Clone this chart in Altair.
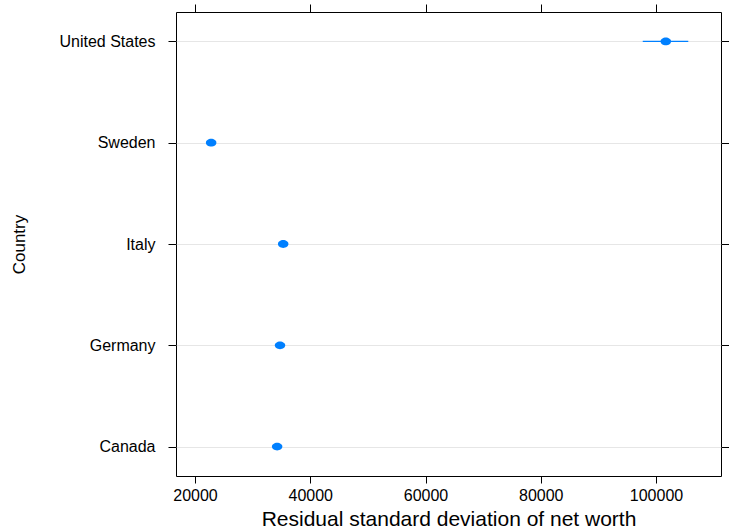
import altair as alt
import pandas as pd

countries = ["United States", "Sweden", "Italy", "Germany", "Canada"]
values = [101700, 22800, 35300, 34750, 34250]
lower = [97700, 22300, 34800, 34250, 33750]
upper = [105600, 23300, 35800, 35250, 34750]
x_ticks = [20000, 40000, 60000, 80000, 100000]

df = pd.DataFrame({"Country": countries, "value": values, "lower": lower, "upper": upper})

FONT = "Liberation Sans"
BLUE = "#0080FF"

xscale = alt.Scale(domain=[16700, 111280], nice=False, zero=False)
yscale = alt.Scale(type="point", padding=0.29)

bottom_axis = alt.Axis(orient="bottom", values=x_ticks, format="d", domain=False, grid=False,
                       tickSize=7, tickColor="black", tickWidth=1, labelFontSize=16, labelFont=FONT,
                       labelColor="black", labelPadding=4, title="Residual standard deviation of net worth",
                       titleFont=FONT, titleFontSize=21, titleFontWeight="normal", titleColor="black",
                       titleBaseline="alphabetic", titleY=49)
left_axis = alt.Axis(orient="left", domain=False, grid=True, gridColor="#e6e6e6", gridWidth=1,
                     tickSize=8, tickColor="black", labelFontSize=16, labelFont=FONT, labelColor="black",
                     labelPadding=13, title="Country", titleFont=FONT, titleFontSize=17,
                     titleFontWeight="normal", titleColor="black", titleBaseline="middle", titleX=-157)
top_axis = alt.Axis(orient="top", values=x_ticks, labels=False, domain=False, grid=False,
                    tickSize=8, tickColor="black", title=None)
right_axis = alt.Axis(orient="right", labels=False, domain=False, grid=False,
                      tickSize=8, tickColor="black", title=None)

sort_order = countries

bars = alt.Chart(df).mark_rule(color=BLUE, strokeWidth=1.3).encode(
    x=alt.X("lower:Q", scale=xscale, axis=bottom_axis),
    x2="upper:Q",
    y=alt.Y("Country:N", sort=sort_order, scale=yscale, axis=left_axis),
)

ellipse = "M-1,0A1,0.74,0,1,1,1,0A1,0.74,0,1,1,-1,0Z"
points = alt.Chart(df).mark_point(filled=True, color=BLUE, opacity=1, size=110, shape=ellipse).encode(
    x=alt.X("value:Q", scale=xscale, axis=None),
    y=alt.Y("Country:N", sort=sort_order, scale=yscale, axis=None),
)

frame_axes = alt.Chart(df).mark_point(opacity=0).encode(
    x=alt.X("value:Q", scale=xscale, axis=top_axis),
    y=alt.Y("Country:N", sort=sort_order, scale=yscale, axis=right_axis),
)

chart = alt.layer(bars, points, frame_axes).resolve_axis(
    x="independent", y="independent"
).properties(
    width=545, height=464,
    autosize=alt.AutoSizeParams(type="none"),
    padding={"left": 176, "top": 12, "right": 8, "bottom": 52},
    background="white",
).configure_view(stroke="black", strokeWidth=1)

chart.save("out.html", embed_options={"renderer": "svg", "actions": False})
